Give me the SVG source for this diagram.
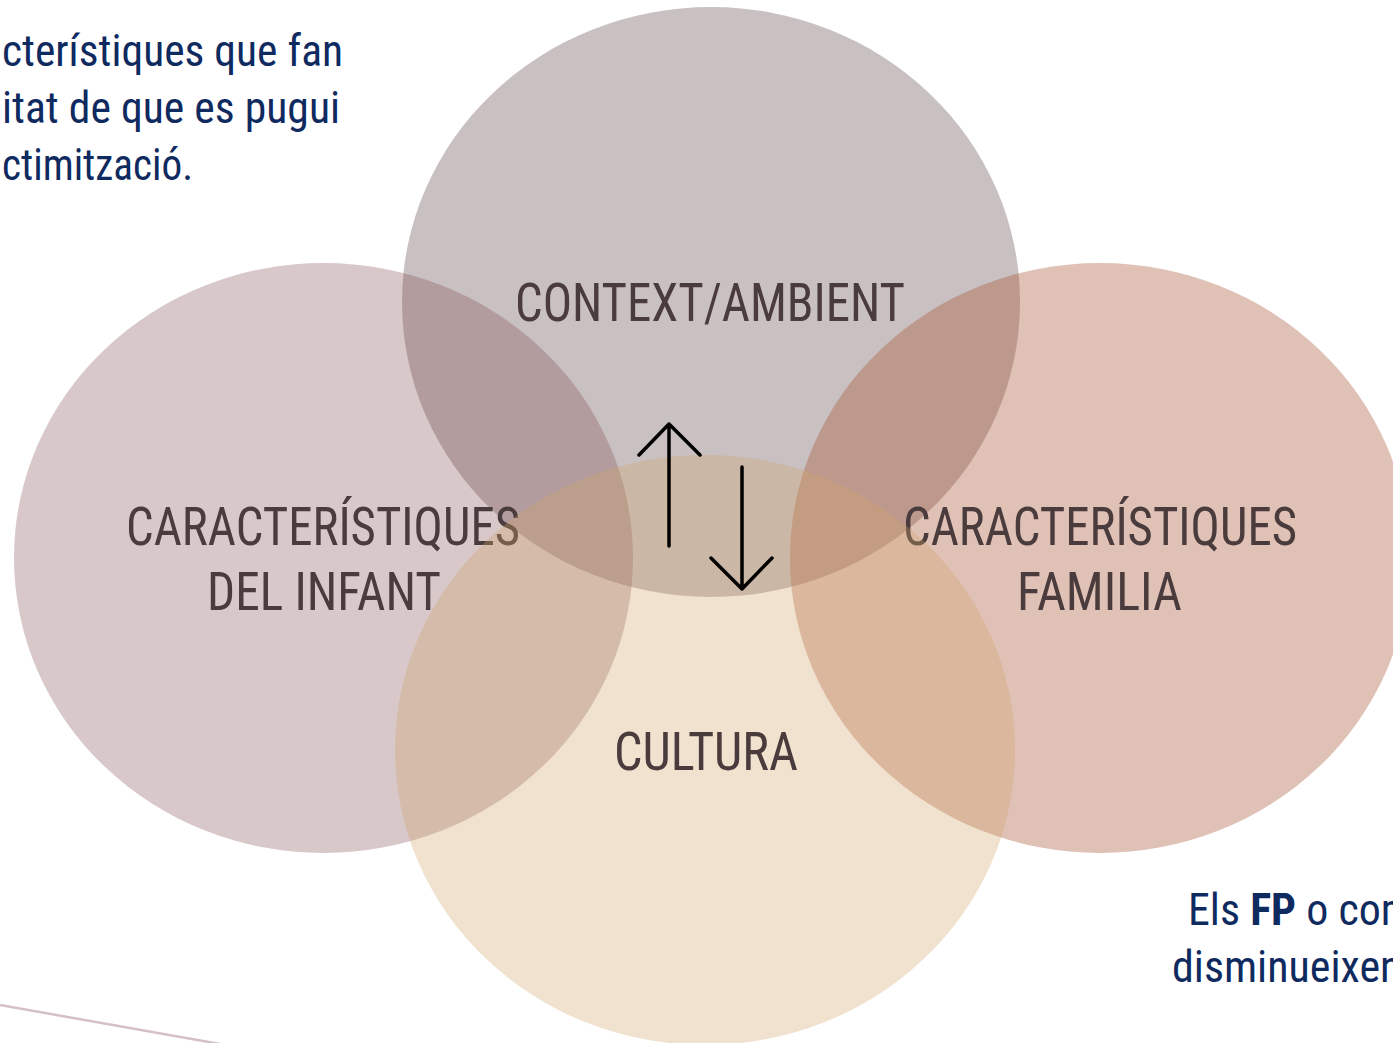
<svg xmlns="http://www.w3.org/2000/svg" width="1393" height="1043" viewBox="0 0 1393 1043">
<style>
.lbl{font-family:"Liberation Sans Narrow","Roboto Condensed","DejaVu Sans Condensed","Liberation Sans",sans-serif;font-size:53px;fill:#4a3b3d;text-anchor:middle}
.body{font-family:"Liberation Sans Narrow","Roboto Condensed","DejaVu Sans Condensed","Liberation Sans",sans-serif;font-size:44px;fill:#0f2a5f}
.arr{fill:none;stroke:#000;stroke-width:3.5;stroke-linecap:round;stroke-linejoin:round}
</style>
<rect width="1393" height="1043" fill="#fff"/>
<g id="intro-text">
<text class="body" x="2" y="66" textLength="341" lengthAdjust="spacingAndGlyphs">cterístiques que fan</text>
<text class="body" x="2" y="123" textLength="338" lengthAdjust="spacingAndGlyphs">itat de que es pugui</text>
<text class="body" x="2" y="180" textLength="191" lengthAdjust="spacingAndGlyphs">ctimització.</text>
</g>
<g id="node-context">
<ellipse cx="711" cy="302" rx="309" ry="295" fill="#786264" fill-opacity="0.4"/>
<text class="lbl" x="710" y="321" textLength="390" lengthAdjust="spacingAndGlyphs">CONTEXT/AMBIENT</text>
</g>
<g id="node-infant">
<ellipse cx="323.5" cy="558" rx="309.5" ry="295" fill="#7d484b" fill-opacity="0.3"/>
<text class="lbl" x="323" y="545" textLength="394" lengthAdjust="spacingAndGlyphs">CARACTERÍSTIQUES</text>
<text class="lbl" x="324" y="610" textLength="234" lengthAdjust="spacingAndGlyphs">DEL INFANT</text>
</g>
<g id="node-familia">
<ellipse cx="1100" cy="558" rx="310" ry="295" fill="#a64e2e" fill-opacity="0.35"/>
<text class="lbl" x="1100" y="545" textLength="394" lengthAdjust="spacingAndGlyphs">CARACTERÍSTIQUES</text>
<text class="lbl" x="1099.5" y="610" textLength="165" lengthAdjust="spacingAndGlyphs">FAMILIA</text>
</g>
<g id="node-cultura">
<ellipse cx="705" cy="750" rx="310" ry="295" fill="#d0a469" fill-opacity="0.32"/>
<text class="lbl" x="706" y="770" textLength="184" lengthAdjust="spacingAndGlyphs">CULTURA</text>
</g>
<g id="connectors">
<path class="arr" d="M669 546V424M639 455L669 424L700 455"/>
<path class="arr" d="M742 467V589M711 558L742 589L772 558"/>
<line x1="0" y1="1005" x2="220" y2="1044" stroke="#d5c0c3" stroke-width="2.5"/>
</g>
<g id="fp-text">
<text class="body" x="1188" y="925">Els <tspan font-weight="bold">FP</tspan> o com</text>
<text class="body" x="1172" y="982">disminueixen</text>
</g>
</svg>
